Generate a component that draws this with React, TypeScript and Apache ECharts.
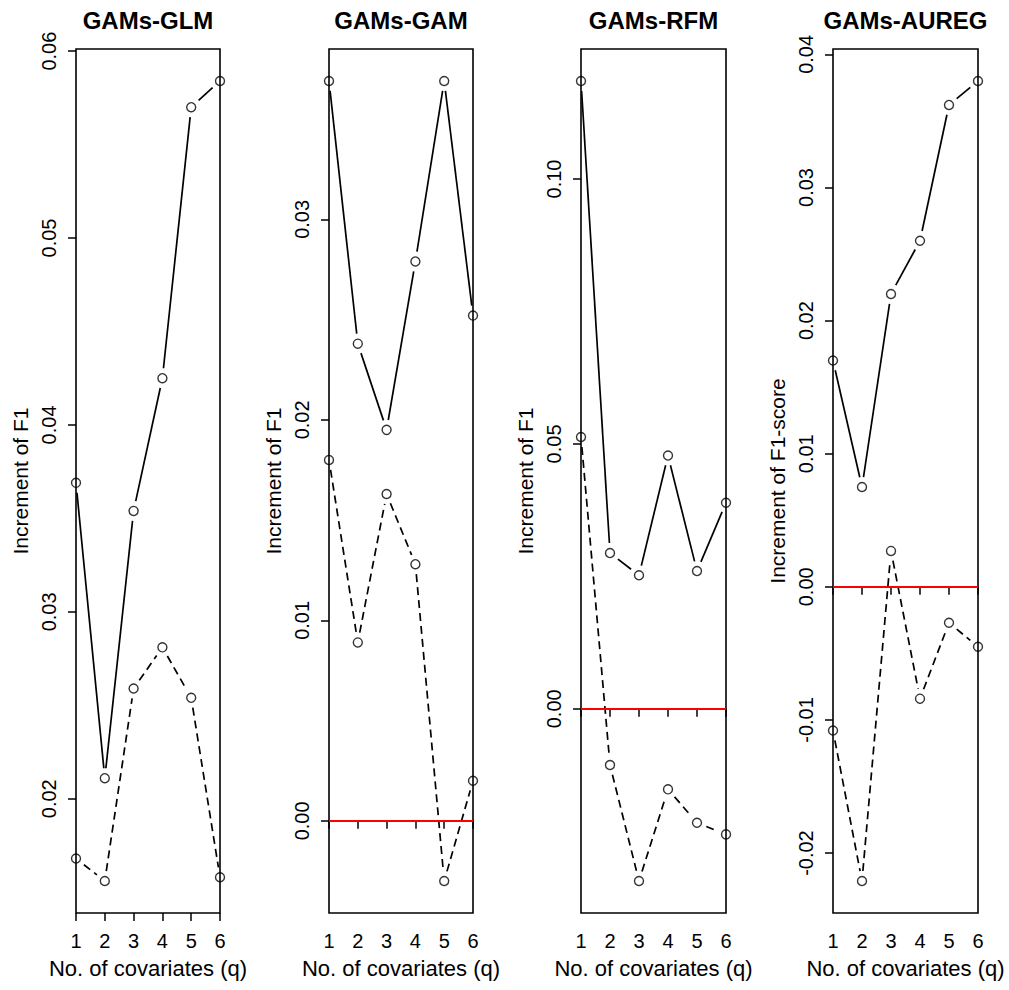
import React, { useEffect, useRef } from "react";
import * as echarts from "echarts";

// ---------------- data ----------------
const qValues = [1, 2, 3, 4, 5, 6];
const panelTitles = ["GAMs-GLM", "GAMs-GAM", "GAMs-RFM", "GAMs-AUREG"];
const yAxisNames = ["Increment of F1", "Increment of F1", "Increment of F1", "Increment of F1-score"];
const xAxisName = "No. of covariates (q)";

const glmSolid = [0.0369, 0.0211, 0.0354, 0.0425, 0.0570, 0.0584];
const glmDashed = [0.0168, 0.0156, 0.0259, 0.0281, 0.0254, 0.0158];
const gamSolid = [0.0369, 0.0238, 0.0195, 0.0279, 0.0369, 0.0252];
const gamDashed = [0.0180, 0.0089, 0.0163, 0.0128, -0.0030, 0.0020];
const rfmSolid = [0.1185, 0.0294, 0.0252, 0.0478, 0.0260, 0.0389];
const rfmDashed = [0.0513, -0.0106, -0.0325, -0.0152, -0.0215, -0.0237];
const auregSolid = [0.0170, 0.0075, 0.0220, 0.0260, 0.0362, 0.0380];
const auregDashed = [-0.0108, -0.0221, 0.0027, -0.0084, -0.0027, -0.0045];

const glmTicks = [0.02, 0.03, 0.04, 0.05, 0.06];
const gamTicks = [0.0, 0.01, 0.02, 0.03];
const rfmTicks = [0.0, 0.05, 0.1];
const auregTicks = [-0.02, -0.01, 0.0, 0.01, 0.02, 0.03, 0.04];
const xTicks = [1, 2, 3, 4, 5, 6];
const referenceLevel = 0;

const panelSolid = [glmSolid, gamSolid, rfmSolid, auregSolid];
const panelDashed = [glmDashed, gamDashed, rfmDashed, auregDashed];
const panelTicks = [glmTicks, gamTicks, rfmTicks, auregTicks];

// ---------------- layout ----------------
const FONT = "'Liberation Sans', Arial, Helvetica, sans-serif";
const gridLefts = [76, 329, 581, 833];
const gridWidths = [144, 144, 145, 145];
const gridTop = 49;
const gridHeight = 864;
const GAP = 10;

function segments(values: number[]) {
  const out: number[][] = [];
  for (let i = 0; i < values.length - 1; i++) {
    out.push([qValues[i], values[i], qValues[i + 1], values[i + 1]]);
  }
  return out;
}

function makeRenderItem(dashed: boolean) {
  return (params: any, api: any) => {
    const p0 = api.coord([api.value(0), api.value(1)]);
    const p1 = api.coord([api.value(2), api.value(3)]);
    const dx = p1[0] - p0[0];
    const dy = p1[1] - p0[1];
    const len = Math.hypot(dx, dy);
    if (len <= 2 * GAP) return null;
    const ux = dx / len;
    const uy = dy / len;
    return {
      type: "line",
      shape: {
        x1: p0[0] + ux * GAP,
        y1: p0[1] + uy * GAP,
        x2: p1[0] - ux * GAP,
        y2: p1[1] - uy * GAP,
      },
      style: {
        stroke: "#000",
        lineWidth: 1.7,
        lineDash: dashed ? [8, 5] : null,
        fill: null,
      },
    };
  };
}

export default function App() {
  const ref = useRef<HTMLDivElement>(null);

  useEffect(() => {
    if (!ref.current) return;
    const chart = echarts.init(ref.current, null, { renderer: "svg" });

    const grids: any[] = [];
    const xAxes: any[] = [];
    const yAxes: any[] = [];
    const series: any[] = [];
    const graphics: any[] = [];

    for (let p = 0; p < 4; p++) {
      const all = panelSolid[p].concat(panelDashed[p]);
      const dmin = Math.min(...all);
      const dmax = Math.max(...all);
      const pad = (dmax - dmin) * 0.04;
      const ymin = dmin - pad;
      const ymax = dmax + pad;

      grids.push({
        left: gridLefts[p],
        top: gridTop,
        width: gridWidths[p],
        height: gridHeight,
        show: true,
        borderColor: "#000",
        borderWidth: 1.6,
        backgroundColor: "transparent",
        containLabel: false,
      });

      xAxes.push({
        type: "value",
        gridIndex: p,
        min: 1,
        max: 6,
        interval: 1,
        name: xAxisName,
        nameLocation: "middle",
        nameGap: 44,
        nameTextStyle: { fontSize: 22, color: "#000", fontFamily: FONT },
        axisLine: { show: false },
        axisTick: {
          show: true,
          inside: false,
          length: 8,
          customValues: xTicks,
          lineStyle: { color: "#000", width: 1.5 },
        },
        axisLabel: {
          fontSize: 20,
          color: "#000",
          fontFamily: FONT,
          margin: 18,
          customValues: xTicks,
        },
        splitLine: { show: false },
      });

      yAxes.push({
        type: "value",
        gridIndex: p,
        min: ymin,
        max: ymax,
        name: yAxisNames[p],
        nameLocation: "middle",
        nameRotate: 90,
        nameGap: 45,
        nameTextStyle: { fontSize: 21, color: "#000", fontFamily: FONT },
        axisLine: { show: false },
        axisTick: {
          show: true,
          inside: false,
          length: 8,
          customValues: panelTicks[p],
          lineStyle: { color: "#000", width: 1.5 },
        },
        axisLabel: {
          rotate: 90,
          fontSize: 20,
          color: "#000",
          fontFamily: FONT,
          margin: 17,
          customValues: panelTicks[p],
          formatter: (v: number) => v.toFixed(2),
        },
        splitLine: { show: false },
      });

      const hasZero = referenceLevel > ymin && referenceLevel < ymax;

      series.push({
        type: "custom",
        name: panelTitles[p] + " solid",
        xAxisIndex: p,
        yAxisIndex: p,
        data: segments(panelSolid[p]),
        encode: { x: [0, 2], y: [1, 3] },
        renderItem: makeRenderItem(false),
        clip: true,
        silent: true,
        z: 3,
      });
      series.push({
        type: "custom",
        name: panelTitles[p] + " dashed",
        xAxisIndex: p,
        yAxisIndex: p,
        data: segments(panelDashed[p]),
        encode: { x: [0, 2], y: [1, 3] },
        renderItem: makeRenderItem(true),
        clip: true,
        silent: true,
        z: 3,
      });
      series.push({
        type: "scatter",
        xAxisIndex: p,
        yAxisIndex: p,
        data: qValues.map((q, i) => [q, panelSolid[p][i]]).concat(
          qValues.map((q, i) => [q, panelDashed[p][i]])
        ),
        symbol: "circle",
        symbolSize: 9,
        itemStyle: { color: "transparent", borderColor: "#000", borderWidth: 1.4 },
        silent: true,
        z: 4,
        markLine: hasZero
          ? {
              silent: true,
              symbol: ["none", "none"],
              label: { show: false },
              lineStyle: { color: "#ff0000", width: 1.8, type: "solid" },
              data: [{ yAxis: referenceLevel }],
            }
          : undefined,
      });

      graphics.push({
        type: "text",
        x: gridLefts[p] + gridWidths[p] / 2,
        y: 20,
        style: {
          text: panelTitles[p],
          font: "bold 24px " + FONT,
          fill: "#000",
          textAlign: "center",
          textVerticalAlign: "middle",
        },
      });
    }

    chart.setOption({
      animation: false,
      backgroundColor: "#fff",
      grid: grids,
      xAxis: xAxes,
      yAxis: yAxes,
      series,
      graphic: graphics,
    });

    return () => chart.dispose();
  }, []);

  return (
    <div
      ref={ref}
      style={{ position: "absolute", left: 0, top: 0, width: 1009, height: 990 }}
    />
  );
}
